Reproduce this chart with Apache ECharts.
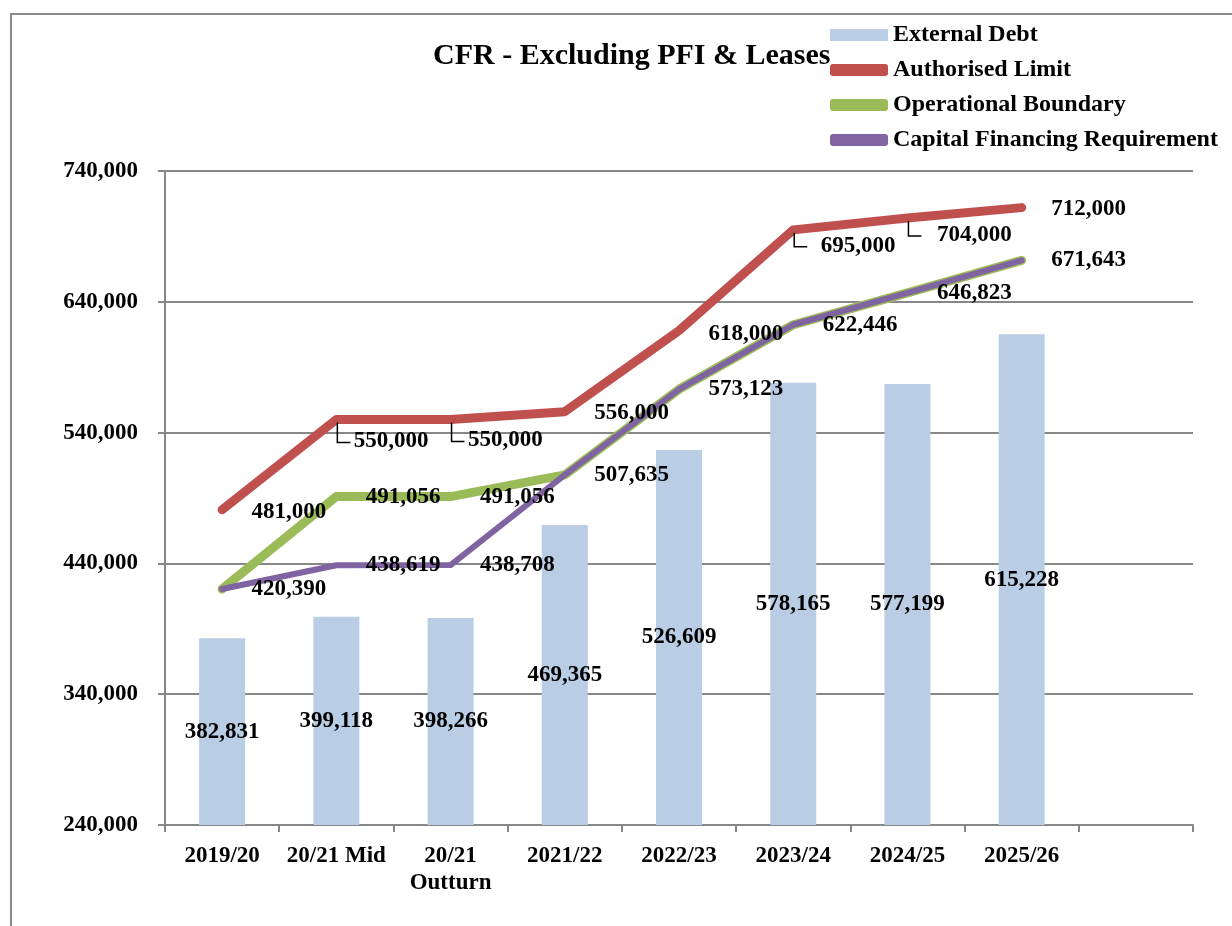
<!DOCTYPE html>
<html>
<head>
<meta charset="utf-8">
<script src="https://cdn.jsdelivr.net/npm/echarts@6/dist/echarts.min.js"></script>
<style>
html,body{margin:0;padding:0;background:#fff;}
#chart{width:1232px;height:926px;}
</style>
</head>
<body>
<div id="chart"></div>
<script>
// ---- data ----
const categories = ['2019/20', '20/21 Mid', '20/21\nOutturn', '2021/22', '2022/23', '2023/24', '2024/25', '2025/26', ''];
const externalDebt = [382831, 399118, 398266, 469365, 526609, 578165, 577199, 615228];
const authorisedLimit = [481000, 550000, 550000, 556000, 618000, 695000, 704000, 712000];
const operationalBoundary = [420390, 491056, 491056, 507635, 573123, 622446, 646823, 671643];
const capitalFinancingRequirement = [420390, 438619, 438708, 507635, 573123, 622446, 646823, 671643];
const yMin = 240000, yMax = 740000, yStep = 100000;
const seriesNames = ['External Debt', 'Authorised Limit', 'Operational Boundary', 'Capital Financing Requirement'];

// ---- styling ----
const FONT = "'Liberation Serif', 'Times New Roman', serif";
const fmt = v => Number(v).toLocaleString('en-US');
const redLabelOffsets = {0: [0, 2], 1: [-12, 22], 2: [-12, 21], 3: [0, 1], 4: [0, 3], 5: [-2, 16], 6: [0, 17], 7: [0, 1]};
const leaderIdx = [1, 2, 5, 6];
const labelBase = {show: true, position: 'right', distance: 29, color: '#000', fontFamily: FONT, fontWeight: 'bold', fontSize: 23, formatter: p => fmt(p.value)};

const chart = echarts.init(document.getElementById('chart'), null, {renderer: 'canvas'});

const option = {
  animation: false,
  backgroundColor: '#fff',
  title: {
    text: 'CFR - Excluding PFI & Leases',
    left: 428, top: 36,
    textStyle: {fontFamily: FONT, fontWeight: 'bold', fontSize: 30, color: '#000'}
  },
  legend: {
    orient: 'vertical', left: 830, top: 23, padding: 0,
    itemWidth: 58, itemHeight: 12, itemGap: 11,
    textStyle: {fontFamily: FONT, fontWeight: 'bold', fontSize: 24, color: '#000'},
    data: [
      {name: seriesNames[0], icon: 'rect'},
      {name: seriesNames[1], icon: 'roundRect'},
      {name: seriesNames[2], icon: 'roundRect'},
      {name: seriesNames[3], icon: 'roundRect'}
    ]
  },
  graphic: [{
    type: 'rect', z: -10, silent: true,
    shape: {x: 11, y: 14, width: 1400, height: 1100},
    style: {fill: 'none', stroke: '#8a8a8a', lineWidth: 2}
  }],
  grid: {left: 165, right: 39, top: 171, bottom: 101},
  xAxis: {
    type: 'category', data: categories, boundaryGap: true,
    axisLine: {lineStyle: {color: '#878787', width: 2}},
    axisTick: {show: true, length: 7, lineStyle: {color: '#878787', width: 2}},
    axisLabel: {color: '#000', fontFamily: FONT, fontWeight: 'bold', fontSize: 23, margin: 18, lineHeight: 27, interval: 0}
  },
  yAxis: {
    type: 'value', min: yMin, max: yMax, interval: yStep,
    axisLine: {show: true, lineStyle: {color: '#878787', width: 2}},
    axisTick: {show: true, length: 7, lineStyle: {color: '#878787', width: 2}},
    splitLine: {lineStyle: {color: '#878787', width: 2}},
    axisLabel: {color: '#000', fontFamily: FONT, fontWeight: 'bold', fontSize: 23, margin: 27, formatter: v => fmt(v)}
  },
  series: [
    {
      name: seriesNames[0], type: 'bar', barWidth: 46,
      itemStyle: {color: '#B9CDE5'},
      label: {show: true, position: 'inside', color: '#000', fontFamily: FONT, fontWeight: 'bold', fontSize: 23, formatter: p => fmt(p.value)},
      data: externalDebt
    },
    {
      name: seriesNames[1], type: 'line', symbol: 'circle', symbolSize: 1, showSymbol: true,
      itemStyle: {color: '#C0504D'},
      lineStyle: {color: '#C0504D', width: 9, cap: 'round', join: 'round'},
      label: labelBase,
      data: authorisedLimit.map((v, i) => ({value: v, label: {offset: redLabelOffsets[i] || [0, 0]}}))
    },
    {
      name: seriesNames[2], type: 'line', symbol: 'circle', symbolSize: 1, showSymbol: true,
      itemStyle: {color: '#9BBB59'},
      lineStyle: {color: '#9BBB59', width: 9, cap: 'round', join: 'round'},
      label: labelBase,
      data: operationalBoundary.map((v, i) => ({value: v, label: {show: i >= 1}}))
    },
    {
      name: seriesNames[3], type: 'line', symbol: 'circle', symbolSize: 1, showSymbol: true,
      itemStyle: {color: '#8064A2'},
      lineStyle: {color: '#8064A2', width: 6, cap: 'round', join: 'round'},
      label: labelBase,
      data: capitalFinancingRequirement.map((v, i) => ({value: v, label: {show: i <= 2}}))
    },
    {
      name: 'leaders', type: 'custom', silent: true, z: 5,
      data: leaderIdx.map(i => [i, authorisedLimit[i]]),
      renderItem: (params, api) => {
        const i = api.value(0);
        const p = api.coord([i, api.value(1)]);
        const dy = (redLabelOffsets[i] || [0, 0])[1];
        return {
          type: 'polyline',
          shape: {points: [[p[0] + 1, p[1] + 3], [p[0] + 1, p[1] + dy + 1], [p[0] + 14, p[1] + dy + 1]]},
          style: {stroke: '#000', lineWidth: 1.5, fill: null}
        };
      }
    }
  ]
};
chart.setOption(option);
</script>
</body>
</html>
